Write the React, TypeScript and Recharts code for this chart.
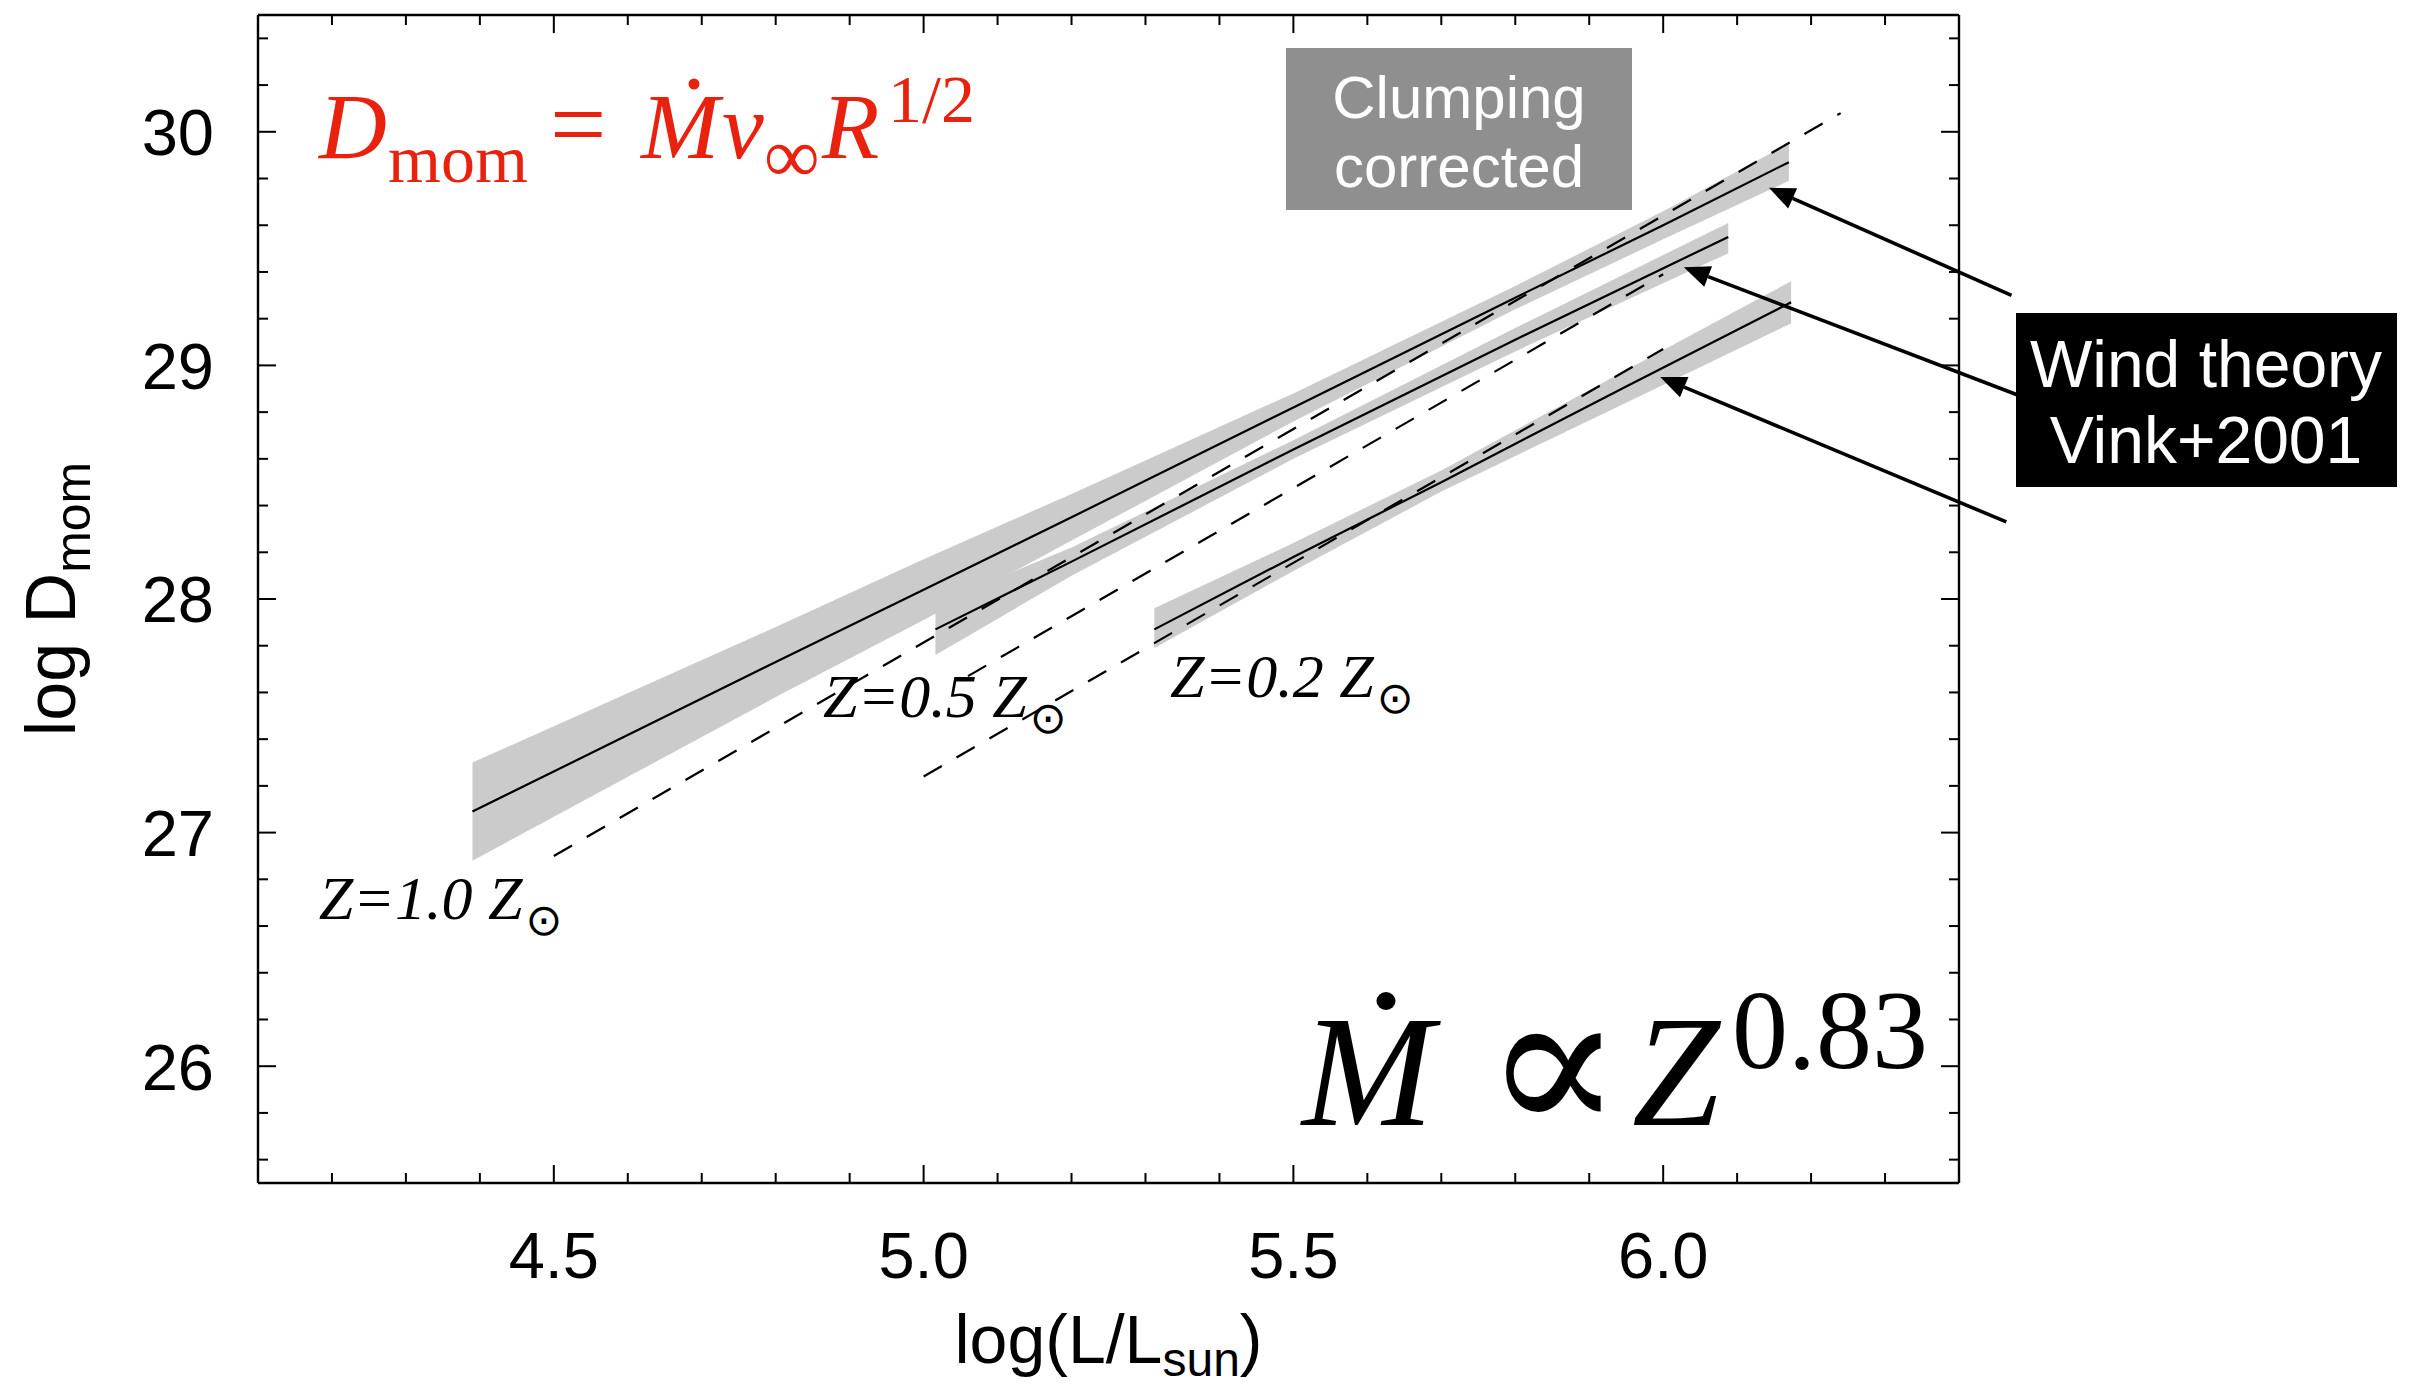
import React from 'react';
import { ComposedChart, Line, Area, XAxis, YAxis, ReferenceLine, ReferenceDot, Label } from 'recharts';

// ---------- data ----------
const X_DOMAIN = [4.1, 6.4];
const Y_DOMAIN = [25.5, 30.5];
const X_TICKS = [4.2, 4.3, 4.4, 4.5, 4.6, 4.7, 4.8, 4.9, 5.0, 5.1, 5.2, 5.3, 5.4, 5.5, 5.6, 5.7, 5.8, 5.9, 6.0, 6.1, 6.2, 6.3];
const Y_TICKS = [25.6, 25.8, 26.0, 26.2, 26.4, 26.6, 26.8, 27.0, 27.2, 27.4, 27.6, 27.8, 28.0, 28.2, 28.4, 28.6, 28.8, 29.0, 29.2, 29.4, 29.6, 29.8, 30.0, 30.2, 30.4];

// Z = 1.0 Zsun (observed fit, clumping corrected)
const Z10_X = [4.39, 4.8, 5.0, 5.2, 5.5, 5.8, 6.0, 6.17];
const Z10_MID = [27.09, 27.73, 28.04, 28.35, 28.82, 29.29, 29.60, 29.87];
const Z10_LO = [26.88, 27.58, 27.91, 28.25, 28.76, 29.24, 29.54, 29.79];
const Z10_HI = [27.30, 27.88, 28.17, 28.45, 28.88, 29.34, 29.66, 29.95];

// Z = 0.5 Zsun
const Z05_X = [5.016, 5.2, 5.5, 5.8, 6.088];
const Z05_MID = [27.87, 28.16, 28.64, 29.11, 29.55];
const Z05_LO = [27.76, 28.10, 28.60, 29.06, 29.48];
const Z05_HI = [27.98, 28.22, 28.68, 29.16, 29.61];

// Z = 0.2 Zsun
const Z02_X = [5.312, 5.5, 5.7, 5.95, 6.173];
const Z02_MID = [27.87, 28.18, 28.50, 28.91, 29.27];
const Z02_LO = [27.79, 28.12, 28.46, 28.84, 29.18];
const Z02_HI = [27.96, 28.24, 28.55, 28.98, 29.36];

// Wind theory (Vink+2001), dashed
const V10_X = [4.50, 6.24];
const V10_Y = [26.90, 30.08];
const V05_X = [5.06, 6.00];
const V05_Y = [27.67, 29.39];
const V02_X = [5.00, 6.00];
const V02_Y = [27.24, 29.07];

// arrows (tail -> tip)
const ARROW_TAIL_X = [6.471, 6.482, 6.464];
const ARROW_TAIL_Y = [29.30, 28.87, 28.33];
const ARROW_TIP_X = [6.143, 6.028, 5.996];
const ARROW_TIP_Y = [29.76, 29.42, 28.95];

// metallicity labels
const LABEL_TEXT = ['Z=1.0 Z', 'Z=0.5 Z', 'Z=0.2 Z'];
const LABEL_X = [4.182, 4.864, 5.333];
const LABEL_Y = [26.632, 27.494, 27.580];

// ---------- helpers ----------
const band = (xs: number[], mid: number[], lo: number[], hi: number[]) =>
  xs.map((x, i) => ({ x, mid: mid[i], band: [lo[i], hi[i]] }));
const pts = (xs: number[], ys: number[]) => xs.map((x, i) => ({ x, y: ys[i] }));

const z10 = band(Z10_X, Z10_MID, Z10_LO, Z10_HI);
const z05 = band(Z05_X, Z05_MID, Z05_LO, Z05_HI);
const z02 = band(Z02_X, Z02_MID, Z02_LO, Z02_HI);
const v10 = pts(V10_X, V10_Y);
const v05 = pts(V05_X, V05_Y);
const v02 = pts(V02_X, V02_Y);

const W = 2401;
const H = 1380;
const MARGIN = { top: 6, right: 449, bottom: 204, left: 249 };
const SANS = '"Liberation Sans", Arial, Helvetica, sans-serif';
const SERIF = '"Liberation Serif", "Times New Roman", Times, serif';
const BAND = '#cbcbcb';
const RED = '#e8220e';

const isMajorX = (v: number) => Math.abs(v * 2 - Math.round(v * 2)) < 1e-6;
const isMajorY = (v: number) => Math.abs(v - Math.round(v)) < 1e-6;

const BottomTick = (p: any) => {
  const v = p.payload.value;
  const major = isMajorX(v);
  return (
    <g>
      <line x1={p.x} y1={p.y} x2={p.x} y2={p.y - (major ? 18 : 10)} stroke="#000" strokeWidth={2} />
      {major && (
        <text x={p.x} y={p.y + 95} textAnchor="middle" fontFamily={SANS} fontSize={65} fill="#000">
          {v.toFixed(1)}
        </text>
      )}
    </g>
  );
};
const TopTick = (p: any) => {
  const major = isMajorX(p.payload.value);
  return <line x1={p.x} y1={p.y} x2={p.x} y2={p.y + (major ? 18 : 10)} stroke="#000" strokeWidth={2} />;
};
const LeftTick = (p: any) => {
  const v = p.payload.value;
  const major = isMajorY(v);
  return (
    <g>
      <line x1={p.x} y1={p.y} x2={p.x + (major ? 18 : 10)} y2={p.y} stroke="#000" strokeWidth={2} />
      {major && (
        <text x={p.x - 44} y={p.y} dy="0.36em" textAnchor="end" fontFamily={SANS} fontSize={65} fill="#000">
          {Math.round(v)}
        </text>
      )}
    </g>
  );
};
const RightTick = (p: any) => {
  const major = isMajorY(p.payload.value);
  return <line x1={p.x} y1={p.y} x2={p.x - (major ? 18 : 10)} y2={p.y} stroke="#000" strokeWidth={2} />;
};

const XTitle = (props: any) => {
  const vb = props.viewBox || {};
  const cx = vb.x + vb.width / 2;
  return (
    <text x={cx} y={vb.y + 180} textAnchor="middle" fontFamily={SANS} fontSize={68} fill="#000">
      log(L/L<tspan fontSize={48} dy={13}>sun</tspan>
      <tspan dy={-13}>)</tspan>
    </text>
  );
};
const YTitle = (props: any) => {
  const vb = props.viewBox || {};
  const cx = vb.x - 182;
  const cy = vb.y + vb.height / 2;
  return (
    <text x={cx} y={cy} transform={`rotate(-90 ${cx} ${cy})`} textAnchor="middle" fontFamily={SANS} fontSize={70} fill="#000">
      log D<tspan fontSize={50} dy={15}>mom</tspan>
    </text>
  );
};

const ArrowShape = (p: any) => {
  const { x1, y1, x2, y2 } = p;
  const dx = x2 - x1;
  const dy = y2 - y1;
  const len = Math.hypot(dx, dy) || 1;
  const ux = dx / len;
  const uy = dy / len;
  const hl = 26;
  const hw = 11;
  const bx = x2 - ux * hl;
  const by = y2 - uy * hl;
  const px = -uy;
  const py = ux;
  return (
    <g>
      <line x1={x1} y1={y1} x2={bx} y2={by} stroke="#000" strokeWidth={3.6} />
      <polygon points={`${x2},${y2} ${bx + px * hw},${by + py * hw} ${bx - px * hw},${by - py * hw}`} fill="#000" />
    </g>
  );
};

const makeLabel = (text: string) => (p: any) => (
  <text x={p.cx} y={p.cy} fontFamily={SERIF} fontStyle="italic" fontSize={62} fill="#000">
    {text}
    <tspan fontFamily='"DejaVu Sans", sans-serif' fontStyle="normal" fontSize={44} dx={3} dy={16}>
      ⊙
    </tspan>
  </text>
);

const Overlay = () => (
  <svg
    width={W}
    height={H}
    style={{ position: 'absolute', left: 0, top: 0, pointerEvents: 'none', overflow: 'visible' }}
  >
    <g transform="translate(-8,-8)">
      {/* red formula */}
      <g fill={RED} fontFamily={SERIF}>
        <text x={319} y={158} fontStyle="italic" fontSize={94}>D</text>
        <text x={388} y={182} fontSize={68}>mom</text>
        <text x={550} y={158} fontSize={100}>=</text>
        <text x={641} y={158} fontStyle="italic" fontSize={94}>M</text>
        <circle cx={694} cy={84} r={5.5} />
        <text x={722} y={158} fontStyle="italic" fontSize={94}>v</text>
        <text x={764} y={182} fontSize={78}>∞</text>
        <text x={822} y={158} fontStyle="italic" fontSize={94}>R</text>
        <text x={888} y={122} fontSize={68}>1/2</text>
      </g>
      {/* big scaling relation */}
      <g fill="#000" fontFamily={SERIF}>
        <text x={1302} y={1125} fontStyle="italic" fontSize={158}>M</text>
        <ellipse cx={1386} cy={1001} rx={9.5} ry={9} />
        <text x={1484} y={1134} fontSize={205} fontFamily='"DejaVu Serif", serif'>∝</text>
        <text x={1632} y={1125} fontStyle="italic" fontSize={158}>Z</text>
        <text x={1732} y={1068} fontSize={112}>0.83</text>
      </g>
      {/* clumping box */}
      <rect x={1286} y={48} width={346} height={162} fill="#8f8f8f" />
      <text x={1459} y={118} textAnchor="middle" fontFamily={SANS} fontSize={60} fill="#fff">Clumping</text>
      <text x={1459} y={187} textAnchor="middle" fontFamily={SANS} fontSize={60} fill="#fff">corrected</text>
      {/* wind theory box */}
      <rect x={2016} y={313} width={381} height={174} fill="#000" />
      <text x={2206} y={387} textAnchor="middle" fontFamily={SANS} fontSize={66} fill="#fff">Wind theory</text>
      <text x={2206} y={463} textAnchor="middle" fontFamily={SANS} fontSize={66} fill="#fff">Vink+2001</text>
    </g>
  </svg>
);

const axisLine = { stroke: '#000', strokeWidth: 2.4 };

export default function App() {
  return (
    <div style={{ position: 'relative', width: W, height: H }}>
      <ComposedChart width={W} height={H} margin={MARGIN}>
        <XAxis
          xAxisId={0}
          dataKey="x"
          type="number"
          domain={X_DOMAIN}
          allowDataOverflow
          ticks={X_TICKS}
          interval={0}
          height={1}
          tickSize={0}
          tickMargin={0}
          tickLine={false}
          tick={BottomTick}
          axisLine={axisLine}
          label={<Label content={XTitle} />}
        />
        <XAxis
          xAxisId="top"
          orientation="top"
          dataKey="x"
          type="number"
          domain={X_DOMAIN}
          allowDataOverflow
          ticks={X_TICKS}
          interval={0}
          height={1}
          tickSize={0}
          tickMargin={0}
          tickLine={false}
          tick={TopTick}
          axisLine={axisLine}
        />
        <YAxis
          yAxisId={0}
          type="number"
          domain={Y_DOMAIN}
          allowDataOverflow
          ticks={Y_TICKS}
          interval={0}
          width={1}
          tickSize={0}
          tickMargin={0}
          tickLine={false}
          tick={LeftTick}
          axisLine={axisLine}
          label={<Label content={YTitle} />}
        />
        <YAxis
          yAxisId="right"
          orientation="right"
          type="number"
          domain={Y_DOMAIN}
          allowDataOverflow
          ticks={Y_TICKS}
          interval={0}
          width={1}
          tickSize={0}
          tickMargin={0}
          tickLine={false}
          tick={RightTick}
          axisLine={axisLine}
        />

        <Area data={z10} dataKey="band" type="linear" stroke="none" fill={BAND} fillOpacity={1} isAnimationActive={false} />
        <Area data={z05} dataKey="band" type="linear" stroke="none" fill={BAND} fillOpacity={1} isAnimationActive={false} />
        <Area data={z02} dataKey="band" type="linear" stroke="none" fill={BAND} fillOpacity={1} isAnimationActive={false} />

        <Line data={v10} dataKey="y" type="linear" stroke="#000" strokeWidth={2.2} strokeDasharray="21 17" dot={false} activeDot={false} isAnimationActive={false} />
        <Line data={v05} dataKey="y" type="linear" stroke="#000" strokeWidth={2.2} strokeDasharray="21 17" dot={false} activeDot={false} isAnimationActive={false} />
        <Line data={v02} dataKey="y" type="linear" stroke="#000" strokeWidth={2.2} strokeDasharray="21 17" dot={false} activeDot={false} isAnimationActive={false} />

        <Line data={z10} dataKey="mid" type="linear" stroke="#000" strokeWidth={2.2} dot={false} activeDot={false} isAnimationActive={false} />
        <Line data={z05} dataKey="mid" type="linear" stroke="#000" strokeWidth={2.2} dot={false} activeDot={false} isAnimationActive={false} />
        <Line data={z02} dataKey="mid" type="linear" stroke="#000" strokeWidth={2.2} dot={false} activeDot={false} isAnimationActive={false} />

        {ARROW_TIP_X.map((tx, i) => (
          <ReferenceLine
            key={`arrow-${i}`}
            segment={[
              { x: ARROW_TAIL_X[i], y: ARROW_TAIL_Y[i] },
              { x: tx, y: ARROW_TIP_Y[i] },
            ]}
            ifOverflow="visible"
            shape={ArrowShape}
          />
        ))}
        {LABEL_TEXT.map((t, i) => (
          <ReferenceDot key={`lab-${i}`} x={LABEL_X[i]} y={LABEL_Y[i]} r={0} ifOverflow="visible" shape={makeLabel(t)} />
        ))}
      </ComposedChart>
      <Overlay />
    </div>
  );
}
